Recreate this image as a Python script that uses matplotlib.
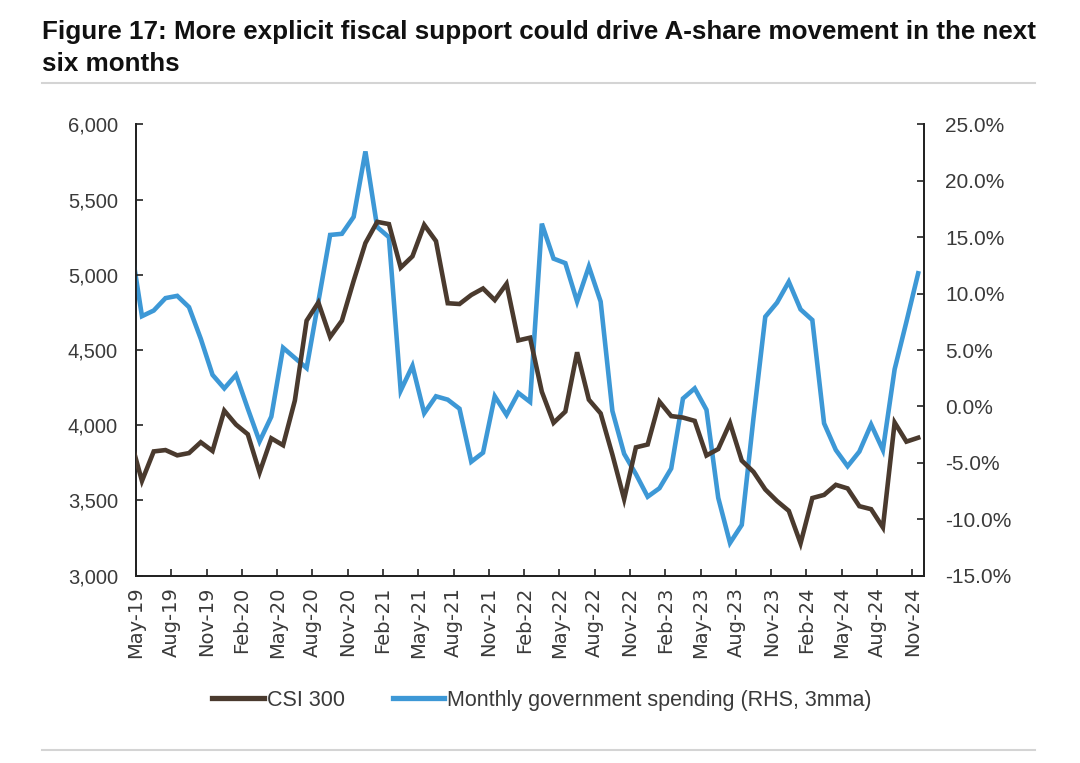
import numpy as np
import matplotlib
matplotlib.use("Agg")
import matplotlib.pyplot as plt
from matplotlib.lines import Line2D

# monthly, Apr-19 .. Nov-24 (Apr-19 sits left of the axis and gets clipped)
csi300 = [3913, 3630, 3826, 3835, 3800, 3815, 3887, 3829, 4097,
          4004, 3940, 3686, 3913, 3867, 4164, 4695, 4816, 4587, 4695, 4960, 5211,
          5352, 5337, 5048, 5123, 5332, 5224, 4811, 4806, 4866, 4909, 4832, 4940,
          4564, 4582, 4223, 4016, 4091, 4485, 4170, 4079, 3805, 3509, 3853, 3872,
          4157, 4061, 4051, 4029, 3799, 3842, 4015, 3765, 3690, 3573, 3496, 3431,
          3215, 3516, 3537, 3604, 3580, 3462, 3442, 3321, 4018, 3891, 3917]

gov_spending = [14.7, 8.0, 8.5, 9.6, 9.8, 8.8, 6.0, 2.8, 1.6,
                2.8, -0.2, -3.1, -0.9, 5.2, 4.3, 3.4, 9.3, 15.2, 15.3, 16.8, 22.6,
                15.9, 15.0, 1.4, 3.6, -0.6, 0.9, 0.6, -0.2, -4.9, -4.1, 0.9, -0.75,
                1.2, 0.4, 16.2, 13.1, 12.7, 9.3, 12.4, 9.3, -0.4, -4.2, -6.0, -8.0,
                -7.25, -5.5, 0.7, 1.6, -0.3, -8.1, -12.1, -10.5, -1.0, 7.95, 9.2, 11.05,
                8.6, 7.66, -1.5, -3.86, -5.3, -4.0, -1.6, -3.86, 3.3, 7.5, 11.8]

tick_labels = ["May-19", "Aug-19", "Nov-19", "Feb-20", "May-20", "Aug-20", "Nov-20",
               "Feb-21", "May-21", "Aug-21", "Nov-21", "Feb-22", "May-22", "Aug-22",
               "Nov-22", "Feb-23", "May-23", "Aug-23", "Nov-23", "Feb-24", "May-24",
               "Aug-24", "Nov-24"]

BROWN = "#4a3a2e"
BLUE = "#3d98d6"
TXT = "#3a3a3a"

plt.rcParams["font.family"] = ["Liberation Sans", "DejaVu Sans"]

# points sit mid-month on a date-like axis starting 1 May 2019
x = np.arange(len(csi300)) - 1 + 0.5

fig = plt.figure(figsize=(10.8, 7.63), dpi=100)
ax = fig.add_axes([0.126, 0.2455, 0.7296, 0.5915])
ax2 = ax.twinx()

ax.plot(x, csi300, color=BROWN, linewidth=3.3, solid_joinstyle="miter", zorder=3)
ax2.plot(x, gov_spending, color=BLUE, linewidth=3.3, solid_joinstyle="miter", zorder=3)

ax.set_xlim(0, 67)
ax.set_ylim(3000, 6000)
ax.set_yticks(np.arange(3000, 6001, 500))
ax.set_yticklabels([f"{v:,.0f}" for v in np.arange(3000, 6001, 500)])
ax2.set_ylim(-15, 25)
ax2.set_yticks(np.arange(-15, 26, 5))
ax2.set_yticklabels([f"{v:.1f}%" for v in np.arange(-15, 26, 5)])

ax.set_xticks(np.arange(0, 67, 3))
ax.set_xticklabels(tick_labels, rotation=90, family="DejaVu Sans", fontsize=14)

for a in (ax, ax2):
    a.spines["top"].set_visible(False)
    for s in ("left", "right", "bottom"):
        a.spines[s].set_color("#222222")
        a.spines[s].set_linewidth(1.3)
ax.tick_params(axis="both", direction="in", length=5, width=1.2, color="#222222",
               labelcolor=TXT)
ax.tick_params(axis="y", pad=13, labelsize=14.5)
ax.tick_params(axis="x", pad=8)
ax2.tick_params(axis="y", direction="in", length=5, width=1.2, color="#222222",
                labelsize=15, labelcolor=TXT, pad=15)
ax.set_zorder(ax2.get_zorder() + 1)
ax.patch.set_visible(False)

# title and rules
fig.text(0.039, 0.974, "Figure 17: More explicit fiscal support could drive A-share movement in the next",
         fontsize=18.7, fontweight="bold", color="#111111", va="top", ha="left")
fig.text(0.039, 0.932, "six months",
         fontsize=18.7, fontweight="bold", color="#111111", va="top", ha="left")
fig.add_artist(Line2D([0.039, 0.958], [0.891, 0.891], color="#d4d4d4", linewidth=1.5))
fig.add_artist(Line2D([0.039, 0.958], [0.017, 0.017], color="#d4d4d4", linewidth=1.5))

handles = [Line2D([], [], color=BROWN, linewidth=3.8),
           Line2D([], [], color=BLUE, linewidth=3.8)]
fig.legend(handles, ["CSI 300", "Monthly government spending (RHS, 3mma)"],
           loc="center", bbox_to_anchor=(0.502, 0.082), ncol=2, frameon=False,
           fontsize=15.5, handlelength=2.4, handletextpad=0.15, columnspacing=2.2,
           labelcolor=TXT)

fig.savefig("out.png", dpi=100, facecolor="white")
